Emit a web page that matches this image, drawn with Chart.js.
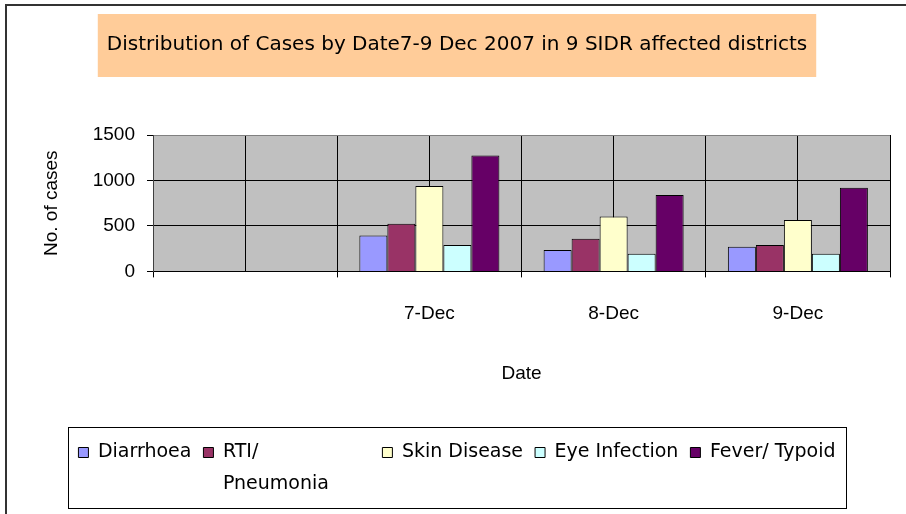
<!DOCTYPE html>
<html>
<head>
<meta charset="utf-8">
<script src="https://cdn.jsdelivr.net/npm/chart.js@4.4.0/dist/chart.umd.min.js"></script>
<style>
  html, body { margin: 0; padding: 0; background: #fff; }
  #wrap { width: 906px; height: 514px; }
</style>
</head>
<body>
<div id="wrap"><canvas id="casesChart" width="906" height="514"></canvas></div>
<script>
"use strict";

// Data
const dates = ['', '7-Dec', '8-Dec', '9-Dec'];
const diarrhoea = [null, 395, 235, 270];
const rtiPneumonia = [null, 525, 360, 290];
const skinDisease = [null, 940, 605, 565];
const eyeInfection = [null, 290, 195, 195];
const feverTypoid = [null, 1275, 840, 920];
const seriesNames = ['Diarrhoea', 'RTI/ Pneumonia', 'Skin Disease', 'Eye Infection', 'Fever/ Typoid'];
const legendLines = ['Diarrhoea', ['RTI/', 'Pneumonia'], 'Skin Disease', 'Eye Infection', 'Fever/ Typoid'];
const seriesColors = ['#9999FF', '#993366', '#FFFFCC', '#CCFFFF', '#660066'];
const yTicks = [0, 500, 1000, 1500];

const chartTitle = 'Distribution of Cases by Date7-9 Dec 2007 in 9 SIDR affected districts';
const titleFont = "'DejaVu Sans', sans-serif";
const axisFont = "'Liberation Sans', Arial, sans-serif";
const legendSize = 19;
const padLeft = 24;

// backgrounds, frames and boxes drawn around library parts
const framePlugin = {
    id: 'frame',
    beforeDraw(chart) {
        const ctx = chart.ctx;
        const area = chart.chartArea;
        ctx.save();
        ctx.fillStyle = '#fff';
        ctx.fillRect(0, 0, chart.width, chart.height);
        // outer border (runs off the right / bottom edge)
        ctx.strokeStyle = '#333';
        ctx.lineWidth = 2;
        ctx.strokeRect(6, 5, chart.width + 20, chart.height + 20);
        // title box
        const tb = chart.titleBlock;
        const cx = tb.left + tb.width / 2;
        const cy = tb.top + tb.options.padding.top + 12;
        ctx.font = '20px ' + titleFont;
        const tw = ctx.measureText(chartTitle).width;
        ctx.fillStyle = '#FFCC99';
        ctx.fillRect(cx - tw / 2 - 9, cy - 31, tw + 18, 63);
        // plot area
        ctx.fillStyle = '#C0C0C0';
        ctx.fillRect(area.left, area.top, area.right - area.left, area.bottom - area.top);
        ctx.restore();
    },
    afterDraw(chart) {
        const lg = chart.legend;
        if (!lg || !lg.legendHitBoxes.length) return;
        const boxes = lg.legendHitBoxes;
        const ctx = chart.ctx;
        const first = boxes[0];
        const last = boxes[boxes.length - 1];
        const midY = first.top + first.height / 2;
        ctx.save();
        // second lines of wrapped legend labels (the legend clips them)
        ctx.font = legendSize + 'px ' + titleFont;
        ctx.fillStyle = '#000';
        ctx.textBaseline = 'middle';
        lg.legendItems.forEach((it, i) => {
            if (Array.isArray(it.text)) {
                it.text.slice(1).forEach((line, k) => {
                    ctx.fillText(line, boxes[i].left + 10 + legendSize / 2, midY + 32 * (k + 1));
                });
            }
        });
        const left = first.left - 10;
        const right = last.left + last.width + 11;
        ctx.strokeStyle = '#000';
        ctx.lineWidth = 1;
        ctx.strokeRect(Math.round(left) + 0.5, Math.round(midY - 26) + 0.5, Math.round(right - left), 81);
        ctx.restore();
    }
};

const datasets = [diarrhoea, rtiPneumonia, skinDisease, eyeInfection, feverTypoid].map((values, i) => ({
    label: seriesNames[i],
    data: values,
    backgroundColor: seriesColors[i],
    borderColor: '#000',
    borderWidth: 1,
    categoryPercentage: 0.76,
    barPercentage: 1.0
}));

new Chart(document.getElementById('casesChart'), {
    type: 'bar',
    data: { labels: dates, datasets: datasets },
    plugins: [framePlugin],
    options: {
        responsive: false,
        animation: false,
        layout: { padding: { left: padLeft, right: 16, top: 0, bottom: 42 } },
        plugins: {
            title: {
                display: true,
                text: chartTitle,
                color: '#000',
                font: { family: titleFont, size: 20, weight: 'normal', lineHeight: 1.2 },
                padding: { top: 33, bottom: 78 }
            },
            legend: {
                position: 'bottom',
                labels: {
                    color: '#000',
                    boxWidth: 10,
                    boxHeight: 10,
                    padding: 12,
                    // tall line height pushes wrapped lines out of the legend clip
                    font: { family: titleFont, size: legendSize, lineHeight: 4 },
                    generateLabels(chart) {
                        const items = Chart.defaults.plugins.legend.labels.generateLabels(chart);
                        items.forEach((it, i) => { it.text = legendLines[i]; it.lineWidth = 1; });
                        return items;
                    }
                }
            },
            tooltip: { enabled: false }
        },
        scales: {
            x: {
                offset: true,
                grid: {
                    offset: true,
                    color: c => (c.index === dates.length ? '#808080' : '#000'),
                    tickLength: 6,
                    tickColor: '#000'
                },
                border: { color: '#000' },
                ticks: {
                    color: '#000',
                    padding: 25,
                    maxRotation: 0,
                    font: { family: axisFont, size: 19 }
                },
                title: {
                    display: true,
                    text: 'Date',
                    color: '#000',
                    font: { family: axisFont, size: 19 },
                    padding: { top: 12, bottom: 46 }
                }
            },
            x2: {
                type: 'category',
                labels: dates,
                position: 'top',
                offset: true,
                grid: { offset: false, color: '#000', drawTicks: false },
                border: { display: false },
                ticks: { display: false },
                afterFit(scale) { scale.height = 0; }
            },
            y: {
                min: 0,
                max: 1500,
                afterBuildTicks(scale) { scale.ticks = yTicks.map(v => ({ value: v })); },
                grid: {
                    color: c => (c.tick && c.tick.value === 1500 ? '#808080' : '#000'),
                    tickLength: 6,
                    tickColor: '#000'
                },
                border: { color: '#404040' },
                ticks: {
                    color: '#000',
                    padding: 12,
                    font: { family: axisFont, size: 19 },
                    callback: v => String(v)
                },
                title: {
                    display: true,
                    text: 'No. of cases',
                    color: '#000',
                    font: { family: axisFont, size: 19 },
                    padding: { top: 40 - padLeft, bottom: 10 }
                },
                afterFit(scale) { scale.width = 153 - padLeft; }
            }
        }
    }
});
</script>
</body>
</html>
